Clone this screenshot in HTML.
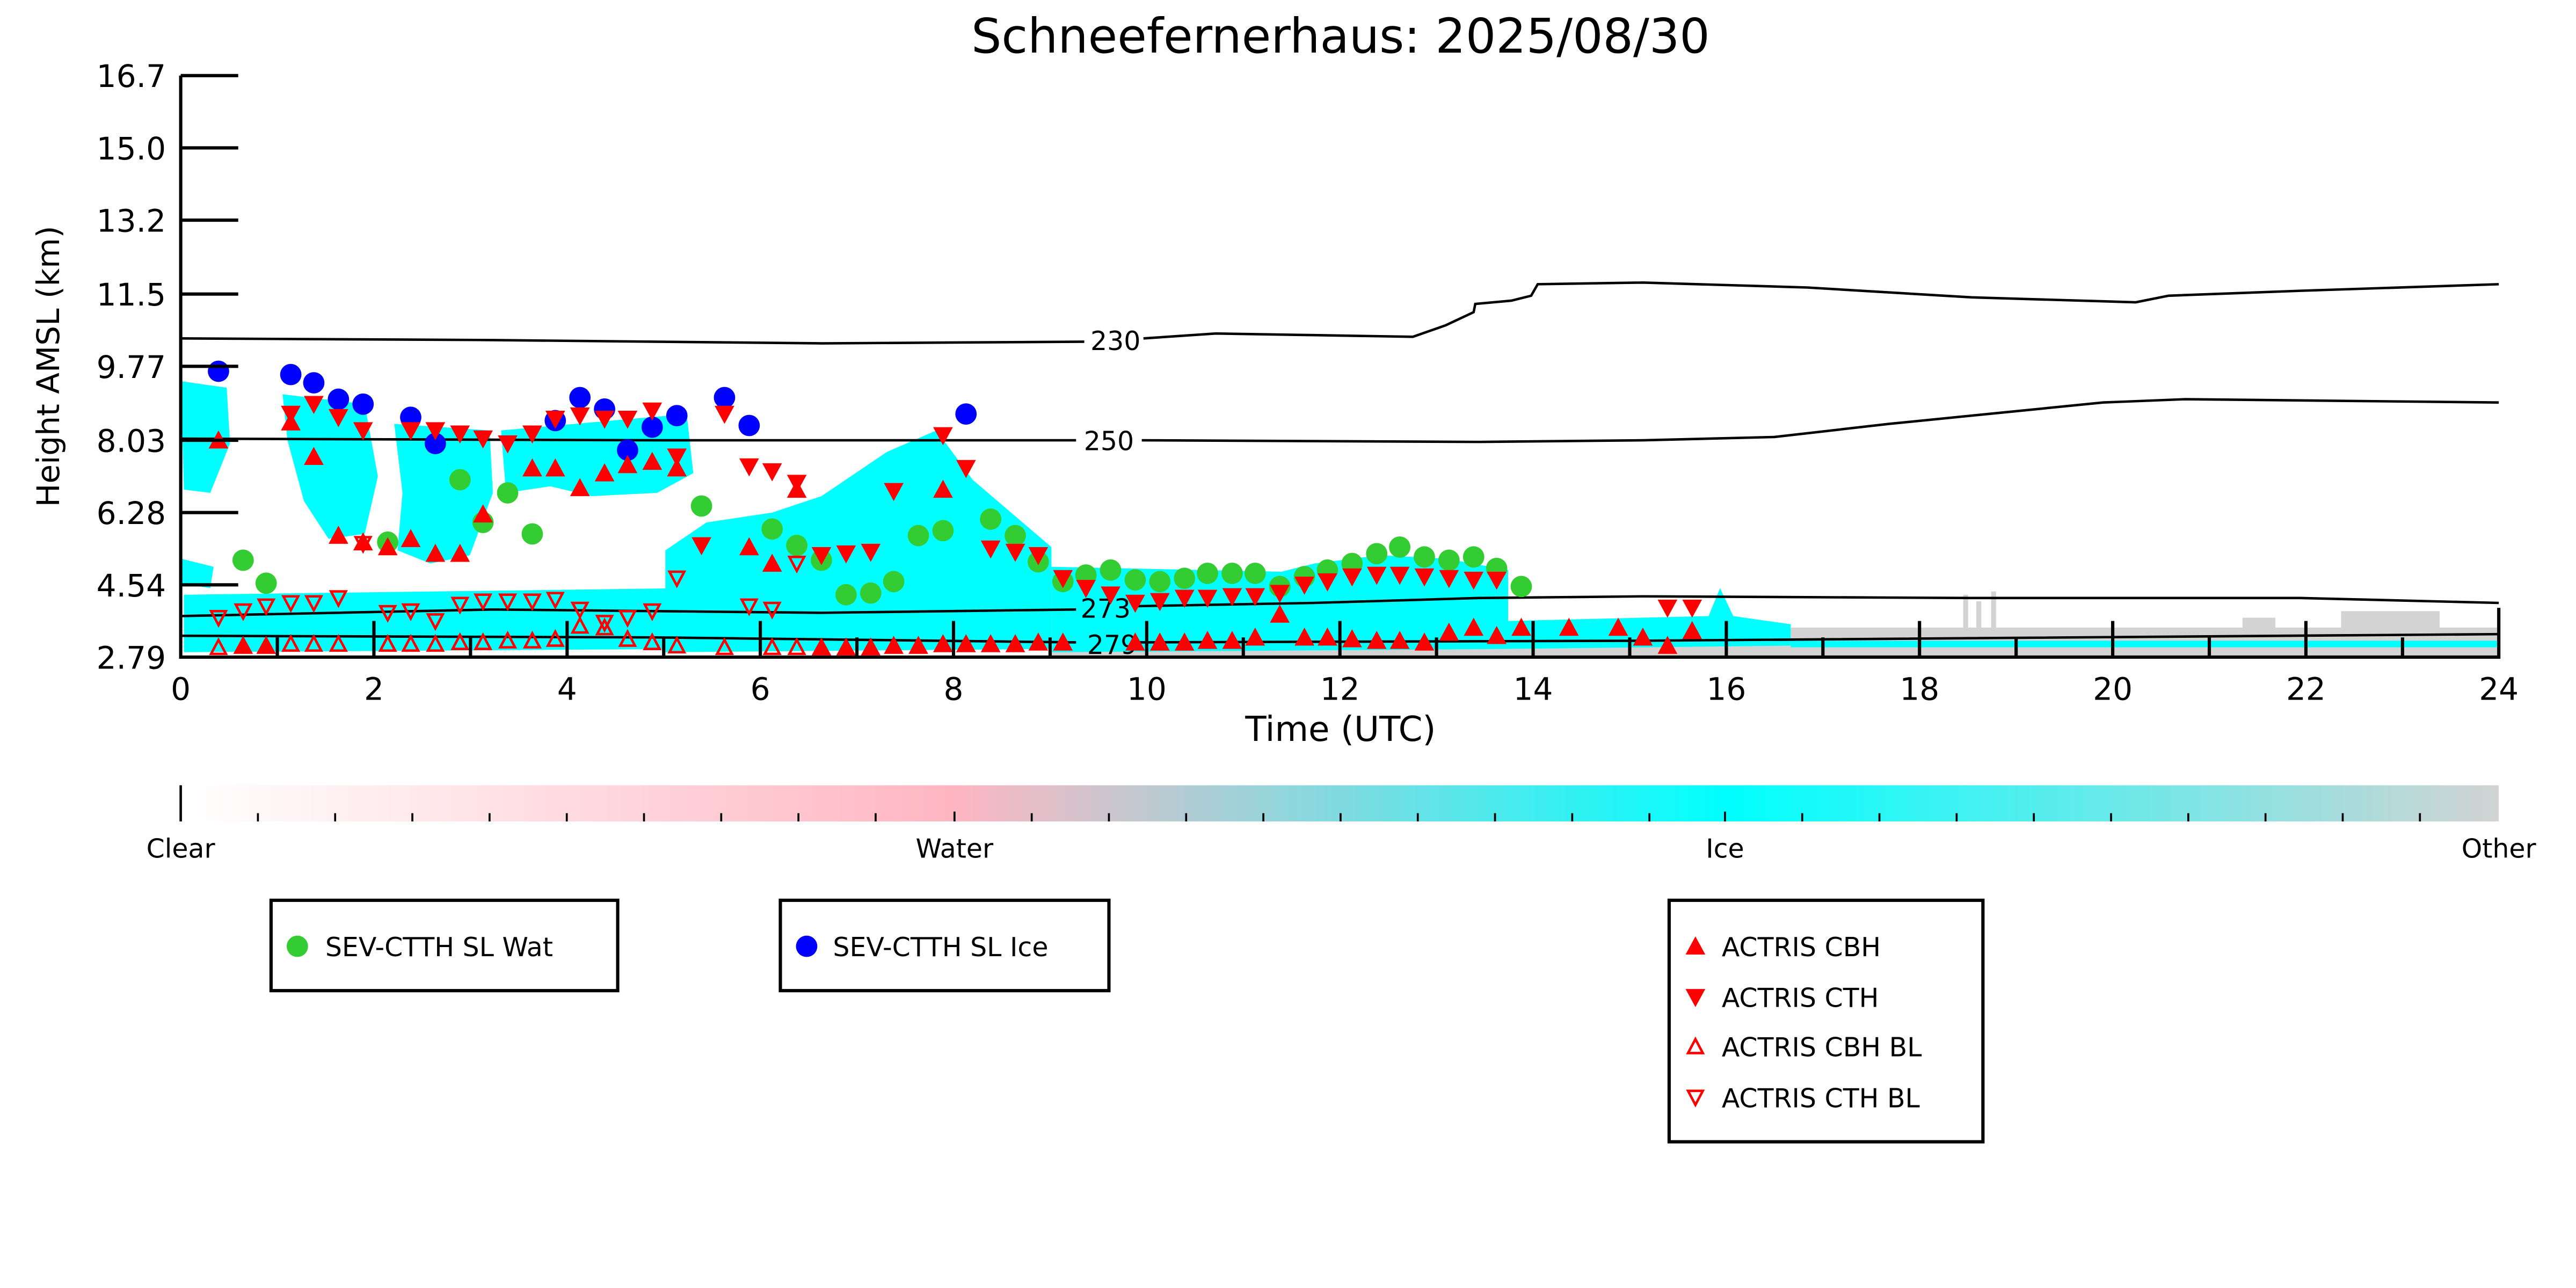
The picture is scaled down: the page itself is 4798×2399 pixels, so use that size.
<!DOCTYPE html>
<html><head><meta charset="utf-8"><style>html,body{margin:0;padding:0;background:#fff}svg{display:block}</style></head>
<body>
<svg width="4798" height="2399" viewBox="0 0 1568 784" xmlns="http://www.w3.org/2000/svg" font-family="DejaVu Sans, Liberation Sans, sans-serif">
<defs>
<linearGradient id="cb" x1="0" x2="1" y1="0" y2="0">
<stop offset="0" stop-color="#ffffff"/><stop offset="0.333" stop-color="#ffb6c1"/><stop offset="0.667" stop-color="#00ffff"/><stop offset="1" stop-color="#d3d3d3"/></linearGradient>
<symbol id="gc" overflow="visible"><circle r="6.5" fill="#33cc33"/></symbol>
<symbol id="bc" overflow="visible"><circle r="6.5" fill="#0000ff"/></symbol>
<symbol id="tu" overflow="visible"><path d="M0,-6 L6,5 L-6,5Z" fill="#ff0000"/></symbol>
<symbol id="td" overflow="visible"><path d="M0,6 L6,-5 L-6,-5Z" fill="#ff0000"/></symbol>
<symbol id="hu" overflow="visible"><path d="M0,-4.5 L4.5,4 L-4.5,4Z" fill="none" stroke="#ff0000" stroke-width="1.5"/></symbol>
<symbol id="hd" overflow="visible"><path d="M0,4.5 L4.5,-4 L-4.5,-4Z" fill="none" stroke="#ff0000" stroke-width="1.5"/></symbol>
</defs>
<rect width="1568" height="784" fill="#fff"/>
<text x="816" y="32" font-size="29" text-anchor="middle">Schneefernerhaus: 2025/08/30</text>

<!-- gray background -->
<g fill="#d3d3d3">
<rect x="640" y="388" width="881" height="12"/>
<rect x="1090" y="382" width="431" height="18"/>
<rect x="1195" y="362" width="3" height="38"/><rect x="1203" y="366" width="3" height="34"/><rect x="1212" y="360" width="3" height="40"/>
<rect x="1425" y="372" width="60" height="28"/>
<rect x="1365" y="376" width="20" height="24"/>
</g>
<!-- cyan clouds -->
<g fill="#00ffff">
<path d="M110,232 L138,236 L140,270 L128,300 L112,298 Z"/>
<path d="M110,340 L130,345 L128,358 L110,355Z"/>
<path d="M172,240 L222,246 L230,290 L222,325 L200,328 L185,305 L175,268Z"/>
<path d="M240,258 L298,262 L300,300 L286,338 L262,343 L242,335 L245,300Z"/>
<path d="M305,262 L418,252 L422,288 L400,300 L360,302 L335,296 L308,300Z"/>
<path d="M112,362 L420,358 L420,395 L112,397Z"/>
<path d="M405,335 L430,318 L470,312 L500,302 L540,275 L570,262 L592,292 L640,333 L640,395 L405,397Z"/>
<path d="M640,345 L780,348 L800,343 L840,338 L880,340 L918,347 L918,395 L640,397Z"/>
<path d="M918,378 L1040,375 L1047,358 L1055,375 L1090,380 L1090,393 L918,395Z"/>
<rect x="1090" y="390" width="431" height="4"/>
</g>
<!-- contours -->
<g fill="none" stroke="#000" stroke-width="1.5">
<path d="M110,206 L300,207 L500,209 L660,208"/>
<path d="M696,206 L740,203 L800,204 L860,205 L880,198 L897,190 L898,185 L920,183 L932,180 L936,173 L1000,172 L1100,175 L1200,181 L1300,184 L1320,180 L1400,177 L1521,173"/>
<path d="M110,267 L400,268 L655,268"/>
<path d="M695,268 L900,269 L1000,268 L1080,266 L1150,258 L1220,251 L1280,245 L1330,243 L1521,245"/>
<path d="M110,375 L300,371 L500,373 L655,371"/>
<path d="M690,369 L800,367 L900,364 L1000,363 L1200,364 L1400,364 L1521,367"/>
<path d="M110,387 L400,388 L655,391"/>
<path d="M690,391 L1000,390 L1521,386"/>
</g>
<g font-size="16" text-anchor="middle"><text x="679" y="213">230</text><text x="675" y="274">250</text><text x="673" y="376">273</text><text x="677" y="398">279</text></g>

<!-- markers -->
<g>
<use href="#gc" x="148" y="341"/><use href="#gc" x="162" y="355"/><use href="#gc" x="236" y="330"/><use href="#gc" x="280" y="292"/><use href="#gc" x="294" y="318"/><use href="#gc" x="309" y="300"/><use href="#gc" x="324" y="325"/><use href="#gc" x="427" y="308"/><use href="#gc" x="470" y="322"/><use href="#gc" x="485" y="332"/><use href="#gc" x="500" y="341"/><use href="#gc" x="515" y="362"/><use href="#gc" x="530" y="361"/><use href="#gc" x="544" y="354"/><use href="#gc" x="559" y="326"/><use href="#gc" x="574" y="323"/><use href="#gc" x="603" y="316"/><use href="#gc" x="618" y="326"/><use href="#gc" x="632" y="342"/><use href="#gc" x="647" y="354"/><use href="#gc" x="661" y="350"/><use href="#gc" x="676" y="347"/><use href="#gc" x="691" y="353"/><use href="#gc" x="706" y="354"/><use href="#gc" x="721" y="352"/><use href="#gc" x="735" y="349"/><use href="#gc" x="750" y="349"/><use href="#gc" x="764" y="349"/><use href="#gc" x="779" y="357"/><use href="#gc" x="794" y="351"/><use href="#gc" x="808" y="347"/><use href="#gc" x="823" y="343"/><use href="#gc" x="838" y="337"/><use href="#gc" x="852" y="333"/><use href="#gc" x="867" y="339"/><use href="#gc" x="882" y="341"/><use href="#gc" x="897" y="339"/><use href="#gc" x="911" y="346"/><use href="#gc" x="926" y="357"/>
<use href="#bc" x="133" y="226"/><use href="#bc" x="177" y="228"/><use href="#bc" x="191" y="233"/><use href="#bc" x="206" y="243"/><use href="#bc" x="221" y="246"/><use href="#bc" x="250" y="254"/><use href="#bc" x="265" y="270"/><use href="#bc" x="338" y="256"/><use href="#bc" x="353" y="242"/><use href="#bc" x="368" y="249"/><use href="#bc" x="382" y="274"/><use href="#bc" x="397" y="260"/><use href="#bc" x="412" y="253"/><use href="#bc" x="441" y="242"/><use href="#bc" x="456" y="259"/><use href="#bc" x="588" y="252"/>
<use href="#tu" x="133" y="268"/><use href="#tu" x="177" y="257"/><use href="#tu" x="191" y="278"/><use href="#tu" x="206" y="326"/><use href="#tu" x="221" y="330"/><use href="#tu" x="236" y="333"/><use href="#tu" x="250" y="328"/><use href="#tu" x="265" y="337"/><use href="#tu" x="280" y="337"/><use href="#tu" x="294" y="313"/><use href="#tu" x="324" y="285"/><use href="#tu" x="338" y="285"/><use href="#tu" x="353" y="297"/><use href="#tu" x="368" y="288"/><use href="#tu" x="382" y="283"/><use href="#tu" x="397" y="281"/><use href="#tu" x="412" y="285"/><use href="#tu" x="456" y="333"/><use href="#tu" x="470" y="343"/><use href="#tu" x="485" y="298"/><use href="#tu" x="574" y="298"/><use href="#tu" x="779" y="374"/>
<use href="#tu" x="148" y="393"/><use href="#tu" x="162" y="393"/><use href="#tu" x="500" y="394"/><use href="#tu" x="515" y="394"/><use href="#tu" x="530" y="394"/><use href="#tu" x="544" y="393"/><use href="#tu" x="559" y="393"/><use href="#tu" x="574" y="392"/><use href="#tu" x="588" y="392"/><use href="#tu" x="603" y="392"/><use href="#tu" x="618" y="392"/><use href="#tu" x="632" y="391"/><use href="#tu" x="647" y="391"/><use href="#tu" x="691" y="391"/><use href="#tu" x="706" y="391"/><use href="#tu" x="721" y="391"/><use href="#tu" x="735" y="390"/><use href="#tu" x="750" y="390"/><use href="#tu" x="764" y="388"/><use href="#tu" x="794" y="388"/><use href="#tu" x="808" y="388"/><use href="#tu" x="823" y="389"/><use href="#tu" x="838" y="390"/><use href="#tu" x="852" y="390"/><use href="#tu" x="867" y="391"/><use href="#tu" x="882" y="385"/><use href="#tu" x="897" y="382"/><use href="#tu" x="911" y="387"/><use href="#tu" x="926" y="382"/><use href="#tu" x="955" y="382"/><use href="#tu" x="985" y="382"/><use href="#tu" x="1000" y="388"/><use href="#tu" x="1015" y="393"/><use href="#tu" x="1030" y="384"/>
<use href="#td" x="177" y="252"/><use href="#td" x="191" y="246"/><use href="#td" x="206" y="254"/><use href="#td" x="221" y="262"/><use href="#td" x="250" y="262"/><use href="#td" x="265" y="262"/><use href="#td" x="280" y="264"/><use href="#td" x="294" y="267"/><use href="#td" x="309" y="270"/><use href="#td" x="324" y="264"/><use href="#td" x="338" y="255"/><use href="#td" x="353" y="253"/><use href="#td" x="368" y="255"/><use href="#td" x="382" y="255"/><use href="#td" x="397" y="250"/><use href="#td" x="412" y="278"/><use href="#td" x="427" y="332"/><use href="#td" x="441" y="252"/><use href="#td" x="456" y="284"/><use href="#td" x="470" y="287"/><use href="#td" x="485" y="294"/><use href="#td" x="500" y="338"/><use href="#td" x="515" y="337"/><use href="#td" x="530" y="336"/><use href="#td" x="544" y="299"/><use href="#td" x="574" y="265"/><use href="#td" x="588" y="285"/><use href="#td" x="603" y="334"/><use href="#td" x="618" y="336"/><use href="#td" x="632" y="338"/><use href="#td" x="647" y="352"/><use href="#td" x="661" y="358"/><use href="#td" x="676" y="362"/><use href="#td" x="691" y="367"/><use href="#td" x="706" y="366"/><use href="#td" x="721" y="364"/><use href="#td" x="735" y="364"/><use href="#td" x="750" y="363"/><use href="#td" x="764" y="363"/><use href="#td" x="779" y="361"/><use href="#td" x="794" y="356"/><use href="#td" x="808" y="354"/><use href="#td" x="823" y="351"/><use href="#td" x="838" y="350"/><use href="#td" x="852" y="350"/><use href="#td" x="867" y="351"/><use href="#td" x="882" y="352"/><use href="#td" x="897" y="353"/><use href="#td" x="911" y="353"/><use href="#td" x="1015" y="370"/><use href="#td" x="1030" y="370"/>
<use href="#hu" x="133" y="394"/><use href="#hu" x="177" y="392"/><use href="#hu" x="191" y="392"/><use href="#hu" x="206" y="392"/><use href="#hu" x="236" y="392"/><use href="#hu" x="250" y="392"/><use href="#hu" x="265" y="392"/><use href="#hu" x="280" y="391"/><use href="#hu" x="294" y="391"/><use href="#hu" x="309" y="390"/><use href="#hu" x="324" y="390"/><use href="#hu" x="338" y="389"/><use href="#hu" x="353" y="381"/><use href="#hu" x="368" y="382"/><use href="#hu" x="382" y="389"/><use href="#hu" x="397" y="391"/><use href="#hu" x="412" y="393"/><use href="#hu" x="441" y="394"/><use href="#hu" x="470" y="394"/><use href="#hu" x="485" y="394"/>
<use href="#hd" x="133" y="376"/><use href="#hd" x="148" y="372"/><use href="#hd" x="162" y="369"/><use href="#hd" x="177" y="367"/><use href="#hd" x="191" y="367"/><use href="#hd" x="206" y="364"/><use href="#hd" x="221" y="331"/><use href="#hd" x="236" y="373"/><use href="#hd" x="250" y="372"/><use href="#hd" x="265" y="378"/><use href="#hd" x="280" y="368"/><use href="#hd" x="294" y="366"/><use href="#hd" x="309" y="366"/><use href="#hd" x="324" y="366"/><use href="#hd" x="338" y="365"/><use href="#hd" x="353" y="371"/><use href="#hd" x="368" y="379"/><use href="#hd" x="382" y="376"/><use href="#hd" x="397" y="372"/><use href="#hd" x="412" y="352"/><use href="#hd" x="456" y="369"/><use href="#hd" x="470" y="371"/><use href="#hd" x="485" y="343"/>
</g>

<!-- axes -->
<g stroke="#000" stroke-width="2" fill="none">
<path d="M110,46 L110,400 L1521,400 L1521,370"/>
<path d="M110,46h35M110,90h35M110,134h35M110,179h35M110,223h35M110,268h35M110,312h35M110,356h35"/>
<path d="M168.8,400v-12M227.6,400v-22M286.4,400v-12M345.2,400v-22M404,400v-12M462.8,400v-22M521.6,400v-12M580.4,400v-22M639.2,400v-12M698,400v-22M756.8,400v-12M815.6,400v-22M874.4,400v-12M933.2,400v-22M992,400v-12M1050.8,400v-22M1109.6,400v-12M1168.4,400v-22M1227.2,400v-12M1286,400v-22M1344.8,400v-12M1403.6,400v-22M1462.4,400v-12"/>
</g>
<g font-size="19" text-anchor="end">
<text x="101" y="53">16.7</text><text x="101" y="97">15.0</text><text x="101" y="141">13.2</text><text x="101" y="186">11.5</text><text x="101" y="230">9.77</text><text x="101" y="275">8.03</text><text x="101" y="319">6.28</text><text x="101" y="363">4.54</text><text x="101" y="407">2.79</text>
</g>
<g font-size="19" text-anchor="middle">
<text x="110" y="426">0</text><text x="227.6" y="426">2</text><text x="345.2" y="426">4</text><text x="462.8" y="426">6</text><text x="580.4" y="426">8</text><text x="698" y="426">10</text><text x="815.6" y="426">12</text><text x="933.2" y="426">14</text><text x="1050.8" y="426">16</text><text x="1168.4" y="426">18</text><text x="1286" y="426">20</text><text x="1403.6" y="426">22</text><text x="1521" y="426">24</text>
<text x="816" y="451" font-size="21">Time (UTC)</text>
<text transform="translate(36,223) rotate(-90)" font-size="19">Height AMSL (km)</text>
</g>

<!-- colorbar -->
<rect x="110" y="478" width="1411" height="22" fill="url(#cb)"/>
<path d="M110,478v22" stroke="#000" stroke-width="1.5"/>
<g stroke="#000" stroke-width="1.2">
<path d="M157,500v-5M204,500v-5M251,500v-5M298,500v-5M345,500v-5M392,500v-5M439,500v-5M486,500v-5M533,500v-5M581,500v-6M628,500v-5M675,500v-5M722,500v-5M769,500v-5M816,500v-5M863,500v-5M910,500v-5M957,500v-5M1004,500v-5M1050,500v-6M1097,500v-5M1144,500v-5M1191,500v-5M1238,500v-5M1285,500v-5M1332,500v-5M1379,500v-5M1426,500v-5M1473,500v-5"/>
</g>
<g font-size="16" text-anchor="middle"><text x="110" y="522">Clear</text><text x="581" y="522">Water</text><text x="1050" y="522">Ice</text><text x="1521" y="522">Other</text></g>

<!-- legends -->
<g fill="#fff" stroke="#000" stroke-width="2">
<rect x="165" y="548" width="211" height="55"/><rect x="475" y="548" width="200" height="55"/><rect x="1016" y="548" width="191" height="147"/>
</g>
<g font-size="16">
<use href="#gc" x="181" y="576"/><text x="198" y="582">SEV-CTTH SL Wat</text>
<use href="#bc" x="491" y="576"/><text x="507" y="582">SEV-CTTH SL Ice</text>
<use href="#tu" x="1032" y="576"/><text x="1048" y="582">ACTRIS CBH</text>
<use href="#td" x="1032" y="607"/><text x="1048" y="613">ACTRIS CTH</text>
<use href="#hu" x="1032" y="637"/><text x="1048" y="643">ACTRIS CBH BL</text>
<use href="#hd" x="1032" y="668"/><text x="1048" y="674">ACTRIS CTH BL</text>
</g>
</svg>
</body></html>
